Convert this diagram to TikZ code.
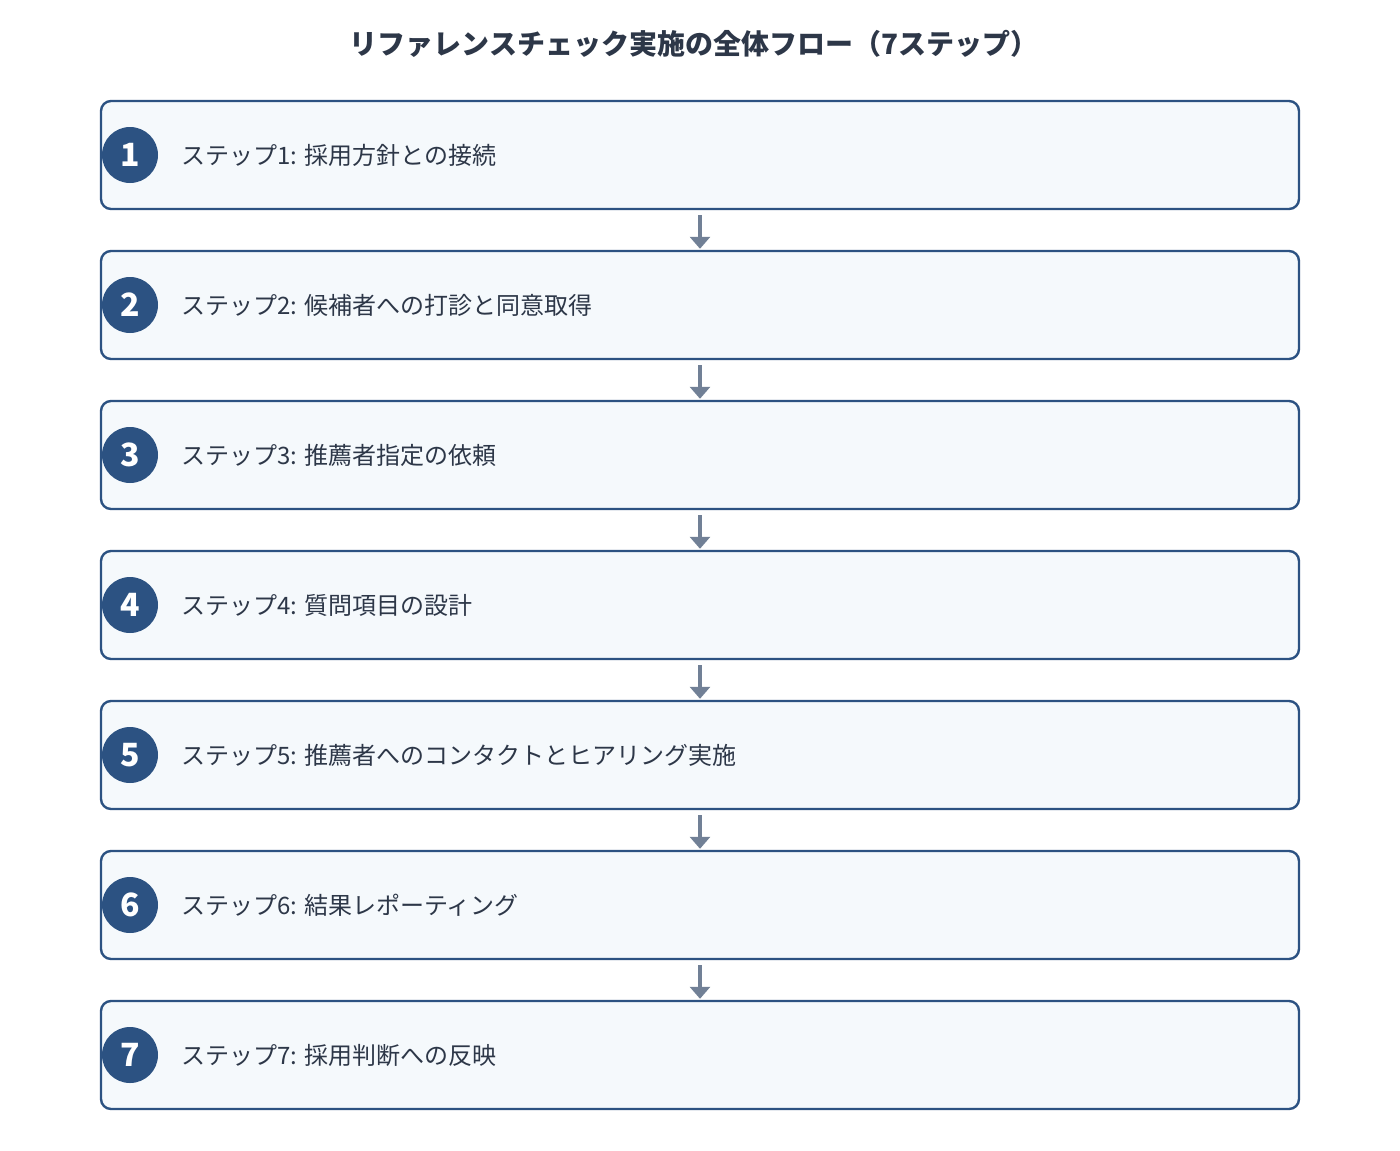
\documentclass[tikz,border=0pt]{standalone}
\usepackage{fontspec}
\setmainfont{Noto Sans CJK JP}
\usetikzlibrary{positioning,arrows.meta}

\definecolor{boxline}{HTML}{2C5282}
\definecolor{boxfill}{HTML}{F5F9FC}
\definecolor{textdark}{HTML}{2D3748}
\definecolor{arrowgray}{HTML}{718096}

\tikzset{
  stepbox/.style={draw=boxline,fill=boxfill,line width=1.8pt,rounded corners=7.5pt,minimum width=898.5pt,minimum height=81pt,inner sep=0pt},
  stepnum/.style={circle,fill=boxline,text=white,minimum size=42pt,inner sep=0pt,font=\fontsize{24}{24}\selectfont\bfseries},
  steptext/.style={anchor=west,inner sep=0pt,text=textdark,font=\fontsize{18}{20}\selectfont},
  flow/.style={draw=arrowgray,line width=3pt,-{Triangle[width=15pt,length=9pt]},shorten <=3.75pt,shorten >=0.75pt}
}

\begin{document}
\begin{tikzpicture}[x=0.75pt,y=-0.75pt]
  \useasboundingbox (0,0) rectangle (1400,1150);

  \node[text=textdark,font=\fontsize{21}{23}\selectfont\bfseries] (title) at (694,44) {リファレンスチェック実施の全体フロー（7ステップ）};

  % Steps
  \node[stepbox] (s1) at (700,155) {};
  \node[stepbox] (s2) at (700,305) {};
  \node[stepbox] (s3) at (700,455) {};
  \node[stepbox] (s4) at (700,605) {};
  \node[stepbox] (s5) at (700,755) {};
  \node[stepbox] (s6) at (700,905) {};
  \node[stepbox] (s7) at (700,1055) {};

  % Numbers
  \node[stepnum] (n1) at (130,155) {1};
  \node[stepnum] (n2) at (130,305) {2};
  \node[stepnum] (n3) at (130,455) {3};
  \node[stepnum] (n4) at (130,605) {4};
  \node[stepnum] (n5) at (130,755) {5};
  \node[stepnum] (n6) at (130,905) {6};
  \node[stepnum] (n7) at (130,1055) {7};

  % Labels
  \node[steptext] (t1) at (181,155) {ステップ1: 採用方針との接続};
  \node[steptext] (t2) at (181,305) {ステップ2: 候補者への打診と同意取得};
  \node[steptext] (t3) at (181,455) {ステップ3: 推薦者指定の依頼};
  \node[steptext] (t4) at (181,605) {ステップ4: 質問項目の設計};
  \node[steptext] (t5) at (181,755) {ステップ5: 推薦者へのコンタクトとヒアリング実施};
  \node[steptext] (t6) at (181,905) {ステップ6: 結果レポーティング};
  \node[steptext] (t7) at (181,1055) {ステップ7: 採用判断への反映};

  % Arrows
  \draw[flow] (s1) -- (s2);
  \draw[flow] (s2) -- (s3);
  \draw[flow] (s3) -- (s4);
  \draw[flow] (s4) -- (s5);
  \draw[flow] (s5) -- (s6);
  \draw[flow] (s6) -- (s7);
\end{tikzpicture}
\end{document}
